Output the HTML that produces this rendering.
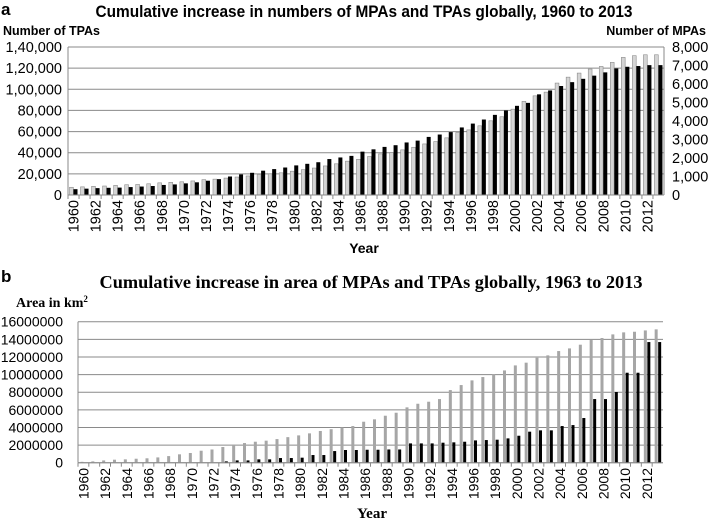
<!DOCTYPE html>
<html><head><meta charset="utf-8"><style>
html,body{margin:0;padding:0;background:#fff;}
svg{display:block;}
</style></head><body>
<svg id="chart" width="710" height="523" viewBox="0 0 710 523" xmlns="http://www.w3.org/2000/svg">
<g id="a"></g>
<g id="b"></g>
</svg>
<script>
const years = [];
for (let y = 1960; y <= 2013; y++) years.push(y);
// Panel a
const mpaCounts = [417,440,469,486,520,554,571,606,657,686,714,760,829,857,914,971,1029,1114,1143,1200,1286,1371,1457,1571,1686,1829,1930,2080,2220,2290,2440,2580,2760,2890,3090,3380,3520,3740,4010,4230,4640,5060,5360,5560,6050,6370,6590,6810,6950,7170,7440,7530,7580,7580];
const tpaCounts = [5500,6000,6500,6800,7000,7500,8000,8500,9500,10000,11000,12000,13500,15000,17500,19500,21000,23000,24500,26000,28000,29500,31000,34000,35500,37000,41000,43200,45500,47100,49700,51450,54950,57200,59500,63900,67550,71400,75800,80000,84350,87150,95200,98900,103100,106750,109900,112900,116000,119700,121300,122000,122850,122850];
const leftTicks = ["0","20,000","40,000","60,000","80,000","1,00,000","1,20,000","1,40,000"];
const rightTicks = ["0","1,000","2,000","3,000","4,000","5,000","6,000","7,000","8,000"];
// Panel b (millions km2)
const mpaArea = [0.1,0.15,0.26,0.34,0.38,0.45,0.5,0.6,0.75,0.95,1.1,1.36,1.5,1.78,2.04,2.23,2.38,2.5,2.68,2.9,3.1,3.33,3.6,3.8,4.0,4.16,4.65,4.92,5.33,5.67,6.28,6.69,6.92,7.22,8.24,8.81,9.34,9.72,10.06,10.47,11.04,11.35,11.91,12.18,12.67,12.97,13.39,13.92,14.15,14.56,14.79,14.86,15.01,15.13];
const tpaArea = [0,0,0,0,0,0,0,0,0,0,0,0,0,0.15,0.26,0.26,0.38,0.38,0.53,0.53,0.57,0.87,0.87,1.32,1.44,1.44,1.47,1.47,1.5,1.5,2.19,2.19,2.19,2.27,2.31,2.38,2.53,2.57,2.61,2.76,3.06,3.52,3.67,3.67,4.16,4.27,5.07,7.22,7.22,8.02,10.21,10.21,13.69,13.69];
const areaTicks = ["0","2000000","4000000","6000000","8000000","10000000","12000000","14000000","16000000"];

const NS = "http://www.w3.org/2000/svg";
function mk(parent, tag, attrs, text) {
  const e = document.createElementNS(NS, tag);
  for (const k in attrs) e.setAttribute(k, attrs[k]);
  if (text !== undefined) e.textContent = text;
  parent.appendChild(e);
  return e;
}
const SANS = '"Liberation Sans", Arial, sans-serif';
const SERIF = '"Liberation Serif", serif';

// ---------- Panel a ----------
(function () {
  const g = document.getElementById('a');
  const L = 68, R = 664, T = 47, B = 195;
  const bw = (R - L) / years.length;
  const yL = v => B - v / 140000 * (B - T);
  const yR = v => B - v / 8000 * (B - T);
  const t1 = mk(g, 'text', {x: 1, y: 15, 'font-family': SANS, 'font-size': 17, 'font-weight': 'bold'}, 'a');
  
  
  const t2 = mk(g, 'text', {x: 364, y: 17, 'text-anchor': 'middle', 'font-family': SANS, 'font-size': 16.2, 'font-weight': 'bold', textLength: 537, lengthAdjust: 'spacingAndGlyphs'}, 'Cumulative increase in numbers of MPAs and TPAs globally, 1960 to 2013');
  
  
  const t3 = mk(g, 'text', {x: 3, y: 35, 'font-family': SANS, 'font-size': 12.5, 'font-weight': 'bold'}, 'Number of TPAs');
  
  
  const t4 = mk(g, 'text', {x: 706, y: 35, 'text-anchor': 'end', 'font-family': SANS, 'font-size': 12.5, 'font-weight': 'bold'}, 'Number of MPAs');
  
  
  leftTicks.forEach((s, i) => {
    const y = yL(i * 20000);
    const gl = mk(g, 'line', {x1: L, x2: R, y1: y, y2: y, stroke: '#8a8a8a', 'stroke-width': 1});
    
    
    const tx = mk(g, 'text', {x: 62, y: y + 5, 'text-anchor': 'end', 'font-family': SANS, 'font-size': 14.5}, s);
    
    
  });
  rightTicks.forEach((s, i) => {
    const y = yR(i * 1000);
    const tx = mk(g, 'text', {x: 672, y: y + 5, 'font-family': SANS, 'font-size': 14.5}, s);
    
    
  });
  mk(g, 'line', {x1: L, x2: L, y1: T, y2: B, stroke: '#8a8a8a'});
  mk(g, 'line', {x1: R, x2: R, y1: T, y2: B, stroke: '#8a8a8a'});
  years.forEach((yr, i) => {
    const x0 = L + i * bw;
    const gy = yR(mpaCounts[i]);
    const gb = mk(g, 'rect', {x: x0 + 1.5, y: gy, width: 3.8, height: B - gy, fill: '#d4d4d4', stroke: '#8c8c8c', 'stroke-width': 0.6});
    
    
    const by = yL(tpaCounts[i]);
    const bb = mk(g, 'rect', {x: x0 + 5.5, y: by, width: 4, height: B - by, fill: '#000'});
    
    
    mk(g, 'line', {x1: x0, x2: x0, y1: B, y2: B + 4, stroke: '#8a8a8a'});
    if (i % 2 === 0) {
      const cx = x0 + bw / 2 + 5;
      const tx = mk(g, 'text', {x: cx, y: 200, 'text-anchor': 'end', transform: `rotate(-90 ${cx} 200)`, 'font-family': SANS, 'font-size': 14.5}, String(yr));
      
      
    }
  });
  mk(g, 'line', {x1: L, x2: R, y1: B, y2: B, stroke: '#8a8a8a'});
  const xt = mk(g, 'text', {x: 364, y: 253, 'text-anchor': 'middle', 'font-family': SANS, 'font-size': 14, 'font-weight': 'bold'}, 'Year');
  
  
})();

// ---------- Panel b ----------
(function () {
  const g = document.getElementById('b');
  const L = 78, R = 663, T = 321.7, B = 462.7;
  const bw = (R - L) / years.length;
  const y = v => B - v / 16 * (B - T);
  const t1 = mk(g, 'text', {x: 1, y: 282, 'font-family': SANS, 'font-size': 17, 'font-weight': 'bold'}, 'b');
  
  
  const t2 = mk(g, 'text', {x: 371, y: 288, 'text-anchor': 'middle', 'font-family': SERIF, 'font-size': 18, 'font-weight': 'bold', textLength: 543, lengthAdjust: 'spacingAndGlyphs'}, 'Cumulative increase in area of MPAs and TPAs globally, 1963 to 2013');
  
  
  const t3 = mk(g, 'text', {x: 16, y: 307, 'font-family': SERIF, 'font-size': 14, 'font-weight': 'bold'});
  
  
  t3.textContent = 'Area in km';
  mk(t3, 'tspan', {dy: -5, 'font-size': 9}, '2');
  areaTicks.forEach((s, i) => {
    const yy = y(i * 2);
    const gl = mk(g, 'line', {x1: L, x2: R, y1: yy, y2: yy, stroke: '#8a8a8a'});
    
    
    const tx = mk(g, 'text', {x: 63, y: yy + 5, 'text-anchor': 'end', 'font-family': SANS, 'font-size': 14}, s);
    
    
  });
  mk(g, 'line', {x1: L, x2: L, y1: T, y2: B, stroke: '#8a8a8a'});
  years.forEach((yr, i) => {
    const x0 = L + i * bw;
    const gy = y(mpaArea[i]);
    const gb = mk(g, 'rect', {x: x0 + 2.5, y: gy, width: 3, height: B - gy, fill: '#a6a6a6'});
    
    
    const by = y(tpaArea[i]);
    const bb = mk(g, 'rect', {x: x0 + 6, y: by, width: 3, height: B - by, fill: '#000'});
    
    
    mk(g, 'line', {x1: x0, x2: x0, y1: B, y2: B + 4, stroke: '#8a8a8a'});
    if (i % 2 === 0) {
      const cx = x0 + bw / 2 + 5;
      const tx = mk(g, 'text', {x: cx, y: 468, 'text-anchor': 'end', transform: `rotate(-90 ${cx} 468)`, 'font-family': SANS, 'font-size': 14}, String(yr));
      
      
    }
  });
  mk(g, 'line', {x1: L, x2: R, y1: B, y2: B, stroke: '#8a8a8a'});
  const xt = mk(g, 'text', {x: 372, y: 518, 'text-anchor': 'middle', 'font-family': SERIF, 'font-size': 15, 'font-weight': 'bold'}, 'Year');
  
  
})();
</script>
</body></html>
